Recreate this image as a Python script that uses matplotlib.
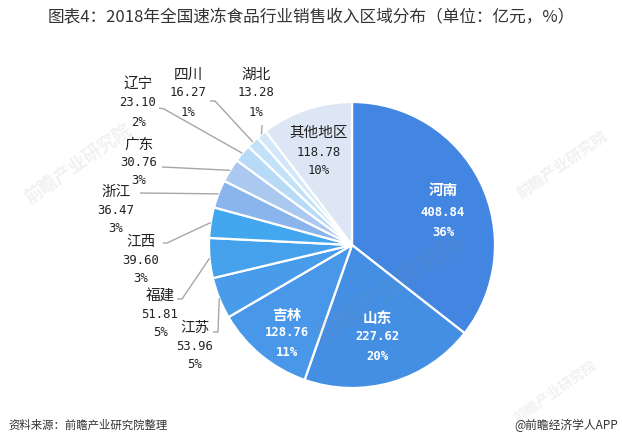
import numpy as np
import matplotlib
matplotlib.use("Agg")
import matplotlib.pyplot as plt

plt.rcParams['font.family'] = ['Noto Sans CJK SC', 'DejaVu Sans']

regions = ["河南", "山东", "吉林", "江苏", "福建", "江西", "浙江", "广东", "辽宁", "四川", "湖北", "其他地区"]
values = [408.84, 227.62, 128.76, 53.96, 51.81, 39.60, 36.47, 30.76, 23.10, 16.27, 13.28, 118.78]
pct_labels = ["36%", "20%", "11%", "5%", "5%", "3%", "3%", "3%", "2%", "1%", "1%", "10%"]
colors = ["#4286E1", "#448FE4", "#4897E8", "#499CEA", "#46A1EC", "#43A7EF",
          "#8AB4EC", "#AAC8F0", "#B7DAF6", "#C2E2F9", "#D2E8FA", "#DCE6F5"]

W, H = 622, 446
fig = plt.figure(figsize=(W / 100, H / 100), dpi=100)
ax = fig.add_axes([0, 0, 1, 1])

def P(x, y):
    return (x, H - y)

cx, cy = 352, 245
R = 143
wedges, _ = ax.pie(values, startangle=90, counterclock=False, colors=colors,
                   center=P(cx, cy), radius=R, frame=True,
                   wedgeprops=dict(edgecolor='white', linewidth=1.6))
ax.set_xlim(0, W)
ax.set_ylim(0, H)
ax.set_aspect('equal')
ax.axis('off')

name_font = 10.5
num_font = dict(family=['DejaVu Sans Mono', 'Noto Sans CJK SC'], size=8.8)

# faint watermarks
for (wx, wy, rot, fs) in [(78, 165, 35, 13), (390, 290, 35, 18), (562, 165, 35, 11), (555, 392, 35, 10)]:
    ax.text(*P(wx, wy), "前瞻产业研究院", rotation=rot, fontsize=fs, color='#888888',
            alpha=0.12, ha='center', va='center', fontweight='bold', zorder=5)

# inner labels (white)
inner = {0: (443, 190, 212, 233), 1: (377, 318, 337, 356), 2: (287, 315, 333, 352)}
# (center x, name y, value y, pct y) in pixel coordinates
outer = {
    10: (256, 75, 93, 113),
    9: (188, 75, 93, 113),
    8: (138, 84, 103, 123),
    7: (139, 145, 162, 181),
    6: (116, 192, 210, 229),
    5: (141, 242, 260, 278),
    4: (160, 297, 314, 333),
    3: (195, 328, 346, 364),
    11: (319, 133, 152, 171),
}
# leader line elbow points
elbows = {
    10: [(262, 125)],
    9: [(215, 101), (210, 101)],
    8: [(164, 109), (159, 108)],
    7: [(162, 167)],
    6: [(140, 193)],
    5: [(167, 243), (163, 243)],
    4: [(182, 299), (177, 299)],
    3: [(218, 332), (213, 332)],
}

for i, w in enumerate(wedges):
    mid = np.deg2rad((w.theta1 + w.theta2) / 2)
    val = f"{values[i]:.2f}"
    if i in inner:
        x, yn, yv, yp = inner[i]
        ax.text(*P(x, yn), regions[i], color='white', fontsize=name_font, fontweight='bold',
                ha='center', va='center', zorder=6)
        ax.text(*P(x, yv), val, color='white', fontweight='bold', ha='center', va='center', zorder=6, **num_font)
        ax.text(*P(x, yp), pct_labels[i], color='white', fontweight='bold', ha='center', va='center', zorder=6, **num_font)
    else:
        x, yn, yv, yp = outer[i]
        ax.text(*P(x, yn), regions[i], color='#222222', fontsize=name_font,
                ha='center', va='center', zorder=6)
        ax.text(*P(x, yv), val, color='#222222', ha='center', va='center', zorder=6, **num_font)
        ax.text(*P(x, yp), pct_labels[i], color='#222222', ha='center', va='center', zorder=6, **num_font)
        if i in elbows:
            ax_x = cx + R * np.cos(mid)
            ax_y = cy - R * np.sin(mid)
            pts = [(ax_x, ax_y)] + elbows[i]
            xs = [p[0] for p in pts]
            ys = [H - p[1] for p in pts]
            ax.plot(xs, ys, color='#A6A6A6', linewidth=1.0, solid_capstyle='butt', zorder=1)

fig.text(0.5, 1 - 18 / H, "图表4：2018年全国速冻食品行业销售收入区域分布（单位：亿元，%）",
         ha='center', va='center', fontsize=12, color='#333333')
fig.text(8 / W, 1 - 425 / H, "资料来源：前瞻产业研究院整理", ha='left', va='center',
         fontsize=8.2, style='italic', color='#333333')
fig.text(618 / W, 1 - 425 / H, "@前瞻经济学人APP", ha='right', va='center',
         fontsize=8.5, color='#333333')

fig.savefig("out.png", dpi=100)
